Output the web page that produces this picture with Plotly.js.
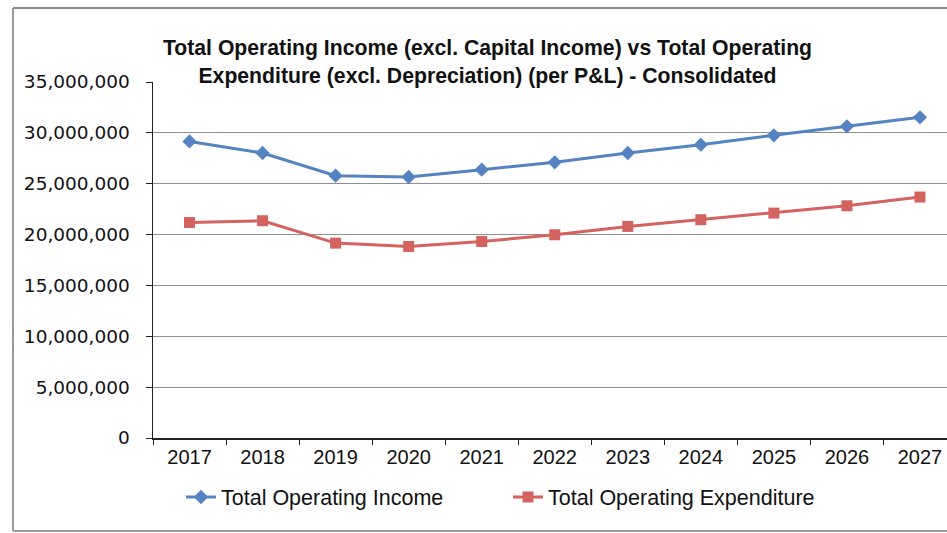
<!DOCTYPE html>
<html>
<head>
<meta charset="utf-8">
<script src="https://cdn.plot.ly/plotly-3.0.1.min.js"></script>
<style>html,body{margin:0;padding:0;background:#fff;overflow:hidden;}#chart{width:947px;height:533px;}</style>
</head>
<body>
<div id="chart"></div>
<script>
var years = ['2017','2018','2019','2020','2021','2022','2023','2024','2025','2026','2027'];
var incomeValues = [29160000, 28020000, 25790000, 25660000, 26380000, 27100000, 28020000, 28840000, 29760000, 30640000, 31530000];
var expenditureValues = [21190000, 21360000, 19160000, 18830000, 19320000, 19980000, 20800000, 21460000, 22110000, 22830000, 23690000];
var seriesNames = ['Total Operating Income', 'Total Operating Expenditure'];
var yTickValues = [0, 5000000, 10000000, 15000000, 20000000, 25000000, 30000000, 35000000];
var chartTitle = 'Total Operating Income (excl. Capital Income) vs Total Operating<br>Expenditure (excl. Depreciation) (per P&L) - Consolidated';

var blue = '#5582c2';
var red = '#d4625f';

var traces = [
  {x: years, y: incomeValues, name: seriesNames[0], type: 'scatter', mode: 'lines+markers',
   line: {color: blue, width: 3}, marker: {symbol: 'diamond', size: 11, color: blue}},
  {x: years, y: expenditureValues, name: seriesNames[1], type: 'scatter', mode: 'lines+markers',
   line: {color: red, width: 3}, marker: {symbol: 'square', size: 11, color: red}}
];

var W = 947, H = 533, L = 153, T = 82, R = 947, B = 438;
function px(x){ return (x - L) / (R - L); }
function py(y){ return (B - y) / (B - T); }

var layout = {
  width: W, height: H,
  margin: {l: L, r: W - R, t: T, b: H - B, pad: 0},
  paper_bgcolor: '#fff', plot_bgcolor: '#fff',
  font: {family: 'Liberation Sans, Arial, sans-serif', color: '#111'},
  title: {text: chartTitle, font: {family: 'Liberation Sans, Arial, sans-serif', size: 21.2, weight: 'bold', color: '#111'},
          x: 487.5 / W, xanchor: 'center', xref: 'container', y: 1 - 55 / H, yanchor: 'middle', yref: 'container'},
  showlegend: true,
  legend: {orientation: 'h', x: px(181), xanchor: 'left', y: py(497), yanchor: 'middle',
           font: {size: 21.5, color: '#111'}, entrywidth: 282, entrywidthmode: 'pixels', bgcolor: 'rgba(0,0,0,0)'},
  xaxis: {type: 'category', range: [-0.5, 10.37], tickson: 'boundaries', ticks: 'outside', ticklen: 5, tickcolor: '#222',
          showline: true, linecolor: '#222', linewidth: 1.5, showgrid: false, zeroline: false,
          tickfont: {size: 20, color: '#111'}, fixedrange: true},
  yaxis: {range: [0, 35000000], tickvals: yTickValues, tickformat: ',.0f', ticks: 'outside', ticklen: 6, tickcolor: '#222',
          showline: true, linecolor: '#222', linewidth: 1.5, showgrid: true, gridcolor: '#8f8f8f', gridwidth: 1,
          zeroline: false, tickfont: {family: 'DejaVu Sans, sans-serif', size: 18.5, color: '#111'},
          ticklabelstandoff: 12, fixedrange: true},
  shapes: [
    {type: 'line', xref: 'paper', yref: 'paper', x0: px(13), x1: px(13), y0: py(8), y1: py(531), line: {color: '#9a9a9a', width: 2}},
    {type: 'line', xref: 'paper', yref: 'paper', x0: px(13), x1: px(947), y0: py(8), y1: py(8), line: {color: '#8a8a8a', width: 2}},
    {type: 'line', xref: 'paper', yref: 'paper', x0: px(13), x1: px(947), y0: py(531), y1: py(531), line: {color: '#9a9a9a', width: 2}}
  ],
  hovermode: false
};

Plotly.newPlot('chart', traces, layout, {displayModeBar: false, staticPlot: true});
</script>
</body>
</html>
